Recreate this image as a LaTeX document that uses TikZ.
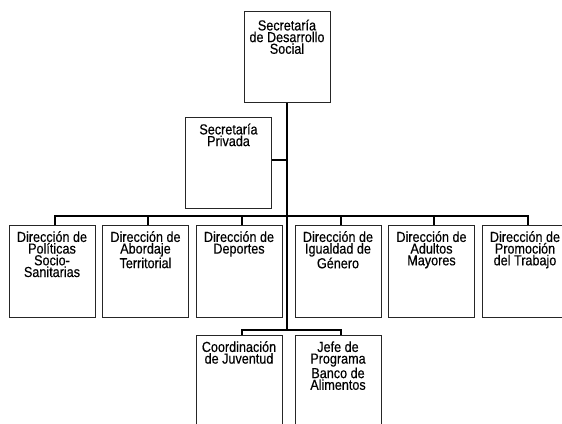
\documentclass[tikz,border=0pt]{standalone}
\usepackage{fontspec}
\setmainfont{Liberation Sans}[FakeStretch=0.87, FakeBold=0.4]
\tikzset{
  orgbox/.style={draw=black!85, line width=0.8pt, inner xsep=0pt, inner ysep=0pt,
    minimum width=86pt, text height=#1, text depth=92pt-#1},
  orgbox/.default=16.5pt,
  conn/.style={line width=2pt, black}
}
\newcommand{\boxtext}[1]{\parbox[t]{86pt}{\centering\fontsize{14.5}{11.7}\selectfont #1}}
\begin{document}
\begin{tikzpicture}[x=1pt,y=-1pt]
\useasboundingbox (0,0) rectangle (562,423);
\clip (0,0) rectangle (562,423);
% top
\node[orgbox=19pt, text depth=72pt, anchor=north] (top) at (287,11) {\boxtext{Secretaría\\de Desarrollo\\Social}};
\node[orgbox=17pt, text depth=74pt, anchor=north] (priv) at (228.5,117) {\boxtext{Secretaría\\Privada}};
% row
\node[orgbox, anchor=north] (b1) at (52,225) {\boxtext{Dirección de\\Políticas\\Socio-\\Sanitarias}};
\node[orgbox, anchor=north] (b2) at (145.5,225) {\boxtext{Dirección de\\Abordaje\\Territorial}};
\node[orgbox, anchor=north] (b3) at (239,225) {\boxtext{Dirección de\\Deportes}};
\node[orgbox, anchor=north] (b4) at (338,225) {\boxtext{Dirección de\\Igualdad de\\Género}};
\node[orgbox, anchor=north] (b5) at (431.5,225) {\boxtext{Dirección de\\Adultos\\Mayores}};
\node[orgbox, anchor=north] (b6) at (525,225) {\boxtext{Dirección de\\Promoción\\del Trabajo}};
% bottom
\node[orgbox, anchor=north] (c1) at (239,335) {\boxtext{Coordinación\\de Juventud}};
\node[orgbox, anchor=north] (c2) at (338,335) {\boxtext{Jefe de\\Programa\\Banco de\\Alimentos}};
% connectors
\coordinate (bar) at (287,216);
\coordinate (low) at (287,330);
\draw[conn] (top.south) -- (low);
\draw[conn] (priv.east |- 0,160) -- (287,160);
\draw[conn] ([xshift=2.5pt]b1.north) |- (bar) -| ([xshift=2.5pt]b6.north);
\foreach \b in {b2,b3,b4,b5} {\draw[conn] ([xshift=2.5pt]\b.north) -- ([xshift=2.5pt]\b.north |- bar);}
\draw[conn] ([xshift=2.5pt]c1.north) |- (low) -| ([xshift=2.5pt]c2.north);
\end{tikzpicture}
\end{document}
